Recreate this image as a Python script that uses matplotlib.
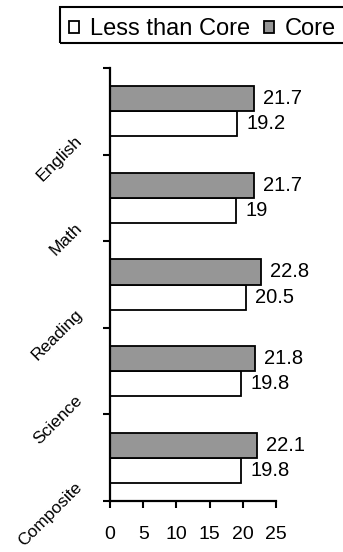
import matplotlib
matplotlib.use("Agg")
import matplotlib.pyplot as plt
import matplotlib.transforms as mtransforms
from matplotlib.patches import Rectangle
import numpy as np

plt.rcParams['font.family'] = ['Liberation Sans', 'DejaVu Sans']

subjects = ["English", "Math", "Reading", "Science", "Composite"]
less_than_core = [19.2, 19.0, 20.5, 19.8, 19.8]
core = [21.7, 21.7, 22.8, 21.8, 22.1]
less_labels = ["19.2", "19", "20.5", "19.8", "19.8"]
core_labels = ["21.7", "21.7", "22.8", "21.8", "22.1"]
x_ticks = [0, 5, 10, 15, 20, 25]

W, H = 343, 552
fig = plt.figure(figsize=(W / 100, H / 100), dpi=100)
ax = fig.add_axes([110 / W, 1 - 501 / H, (276 - 110) / W, (501 - 68) / H])

bar_h = 0.29
pos = np.arange(len(subjects)) + 0.5
core_y = pos - bar_h / 2
less_y = pos + bar_h / 2

b_less = ax.barh(less_y, less_than_core, height=bar_h, color="white",
                 edgecolor="black", linewidth=1.3, label="Less than Core")
b_core = ax.barh(core_y, core, height=bar_h, color="#969696",
                 edgecolor="black", linewidth=1.3, label="Core")

for y, v, t in zip(core_y, core, core_labels):
    ax.annotate(t, (v, y), xytext=(6.5, 0), textcoords="offset points",
                va="center", ha="left", fontsize=14.5)
for y, v, t in zip(less_y, less_than_core, less_labels):
    ax.annotate(t, (v, y), xytext=(6.5, 0), textcoords="offset points",
                va="center", ha="left", fontsize=14.5)

ax.set_xlim(0, 25)
ax.set_ylim(len(subjects), 0)
ax.set_xticks(x_ticks)
ax.set_xticklabels([str(t) for t in x_ticks], fontsize=14)
ax.set_yticks(np.arange(len(subjects) + 1))
ax.set_yticklabels([])
ax.tick_params(axis="both", direction="out", length=5, width=1.5, color="black")
ax.tick_params(axis="x", pad=13)

for s in ["top", "right"]:
    ax.spines[s].set_visible(False)
for s in ["left", "bottom"]:
    ax.spines[s].set_linewidth(1.6)

# rotated category names placed just above each category's lower tick
offset = mtransforms.ScaledTranslation(-30 / 100, 16 / 100, fig.dpi_scale_trans)
for i, name in enumerate(subjects):
    ax.text(0, i + 1, name, rotation=45, rotation_mode="anchor",
            ha="right", va="center", fontsize=12.5,
            transform=ax.transData + offset)

leg = fig.legend(handles=[b_less, b_core], loc="upper left",
                 bbox_to_anchor=(62 / W, 1 - 11 / H), ncol=2, fontsize=17,
                 frameon=False,
                 handlelength=0.42, handleheight=0.42, handletextpad=0.45,
                 columnspacing=0.6, borderpad=0.3, borderaxespad=0)

# legend box runs off the right edge of the figure
fig.patches.append(Rectangle((60 / W, 1 - 43 / H), 300 / W, 36 / H,
                             transform=fig.transFigure, fill=False,
                             edgecolor="black", linewidth=1.5, clip_on=False))

fig.savefig("out.png", dpi=100)
